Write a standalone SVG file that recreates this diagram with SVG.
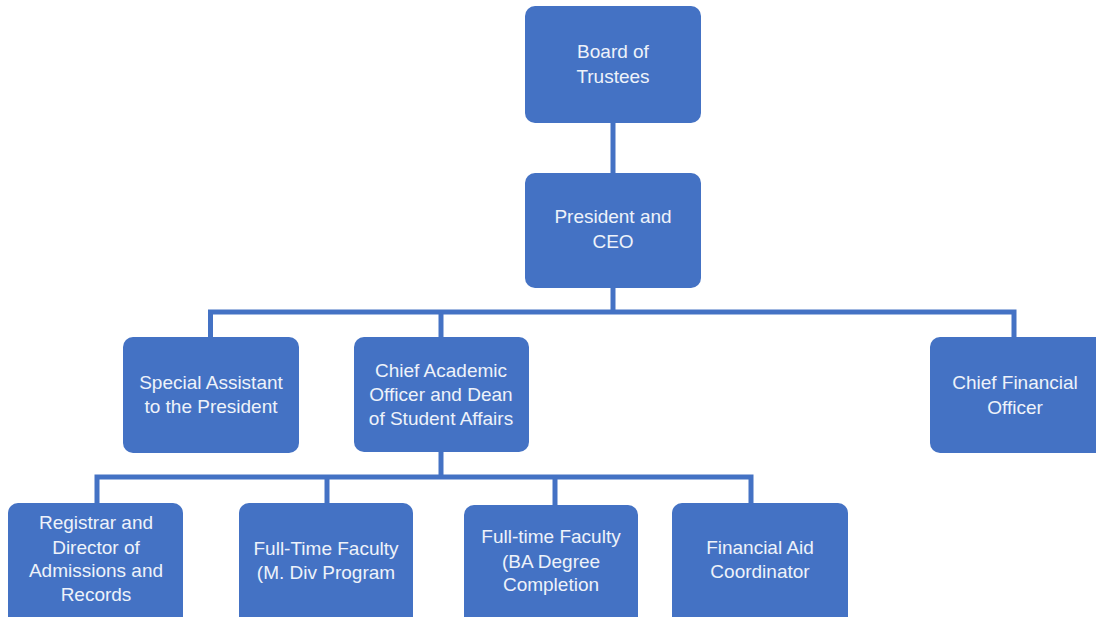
<svg xmlns="http://www.w3.org/2000/svg" width="1096" height="617" viewBox="0 0 1096 617">
<style>
.box{fill:#4472c4;}
.lbl{font-family:"Liberation Sans",Arial,sans-serif;font-size:19px;fill:#eef2fa;text-anchor:middle;}
.con{fill:none;stroke:#4472c4;stroke-width:5;stroke-linejoin:miter;}
</style>
<rect width="1096" height="617" fill="#ffffff"/>
<g id="connectors">
<path class="con" d="M613,123 V173"/>
<path class="con" d="M613,288 V312"/>
<path class="con" d="M210.5,337 V312 H1014 V337"/>
<path class="con" d="M441,312 V337"/>
<path class="con" d="M441,452 V477"/>
<path class="con" d="M97,503 V477 H751 V503"/>
<path class="con" d="M327,477 V503"/>
<path class="con" d="M555,477 V505"/>
</g>
<g id="board">
<rect class="box" x="525" y="6" width="176" height="117" rx="10"/>
<text class="lbl" x="613" y="58">Board of</text>
<text class="lbl" x="613" y="83">Trustees</text>
</g>
<g id="president">
<rect class="box" x="525" y="173" width="176" height="115" rx="10"/>
<text class="lbl" x="613" y="223">President and</text>
<text class="lbl" x="613" y="248">CEO</text>
</g>
<g id="special-assistant">
<rect class="box" x="123" y="337" width="176" height="116" rx="10"/>
<text class="lbl" x="211" y="389">Special Assistant</text>
<text class="lbl" x="211" y="413">to the President</text>
</g>
<g id="chief-academic">
<rect class="box" x="354" y="337" width="175" height="115" rx="10"/>
<text class="lbl" x="441" y="377">Chief Academic</text>
<text class="lbl" x="441" y="401">Officer and Dean</text>
<text class="lbl" x="441" y="425">of Student Affairs</text>
</g>
<g id="cfo">
<rect class="box" x="930" y="337" width="176" height="116" rx="10"/>
<text class="lbl" x="1015" y="389">Chief Financial</text>
<text class="lbl" x="1015" y="414">Officer</text>
</g>
<g id="registrar">
<rect class="box" x="8" y="503" width="175" height="125" rx="10"/>
<text class="lbl" x="96" y="529">Registrar and</text>
<text class="lbl" x="96" y="554">Director of</text>
<text class="lbl" x="96" y="577">Admissions and</text>
<text class="lbl" x="96" y="601">Records</text>
</g>
<g id="faculty-mdiv">
<rect class="box" x="239" y="503" width="174" height="125" rx="10"/>
<text class="lbl" x="326" y="555">Full-Time Faculty</text>
<text class="lbl" x="326" y="579">(M. Div Program</text>
</g>
<g id="faculty-ba">
<rect class="box" x="464" y="505" width="174" height="125" rx="10"/>
<text class="lbl" x="551" y="543">Full-time Faculty</text>
<text class="lbl" x="551" y="568">(BA Degree</text>
<text class="lbl" x="551" y="591">Completion</text>
</g>
<g id="financial-aid">
<rect class="box" x="672" y="503" width="176" height="125" rx="10"/>
<text class="lbl" x="760" y="554">Financial Aid</text>
<text class="lbl" x="760" y="578">Coordinator</text>
</g>
</svg>
